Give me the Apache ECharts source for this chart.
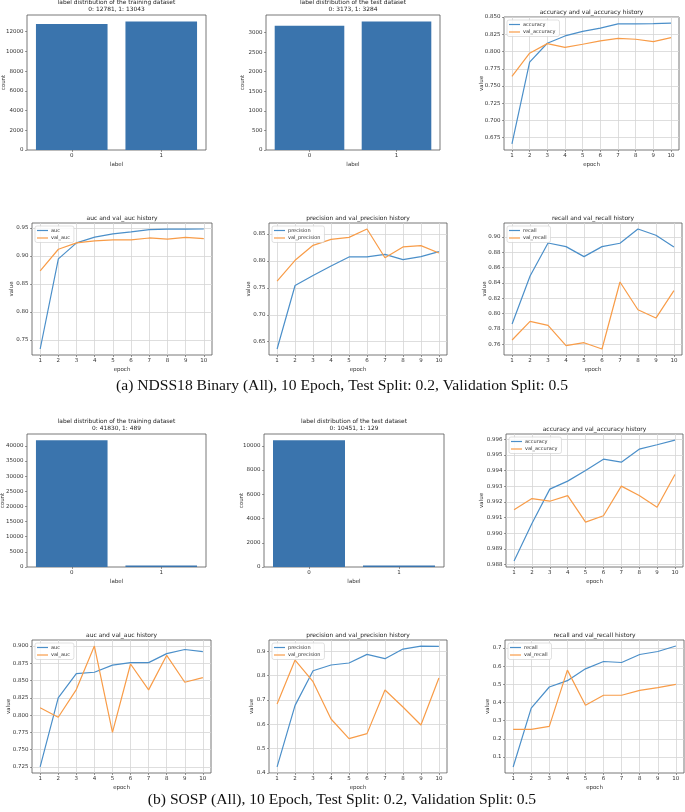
<!DOCTYPE html>
<html>
<head>
<meta charset="utf-8">
<script src="https://cdn.jsdelivr.net/npm/echarts@6/dist/echarts.min.js"></script>
<style>
html, body { margin: 0; padding: 0; background: #fff; }
#main { width: 685px; height: 812px; }
</style>
</head>
<body>
<div id="main"></div>
<script>
// x values of the history plots
const epochs = [1, 2, 3, 4, 5, 6, 7, 8, 9, 10];
const labelCats = ['0', '1'];

// (a) NDSS18 Binary
const ndssTrainCounts = [12781, 13043];
const ndssTestCounts = [3173, 3284];
const ndssAccuracy = [0.666, 0.7846, 0.812, 0.8226, 0.8293, 0.834, 0.840, 0.840, 0.8404, 0.8413];
const ndssValAccuracy = [0.764, 0.7976, 0.8115, 0.806, 0.8106, 0.8154, 0.8192, 0.8178, 0.8144, 0.8202];
const ndssAuc = [0.734, 0.8947, 0.9233, 0.9334, 0.9393, 0.9429, 0.947, 0.9476, 0.9476, 0.948];
const ndssValAuc = [0.8733, 0.9119, 0.9232, 0.9268, 0.9286, 0.9286, 0.932, 0.930, 0.933, 0.931];
const ndssPrecision = [0.6364, 0.7543, 0.7728, 0.7907, 0.8074, 0.8074, 0.8123, 0.8025, 0.808, 0.8173];
const ndssValPrecision = [0.7623, 0.8012, 0.829, 0.840, 0.8438, 0.8593, 0.806, 0.826, 0.8284, 0.8148];
const ndssRecall = [0.7865, 0.8491, 0.8922, 0.8874, 0.8744, 0.8874, 0.8918, 0.9104, 0.9022, 0.887];
const ndssValRecall = [0.7657, 0.790, 0.7848, 0.7583, 0.7622, 0.754, 0.8413, 0.8052, 0.7943, 0.830];

// (b) SOSP
const sospTrainCounts = [41830, 489];
const sospTestCounts = [10451, 129];
const sospAccuracy = [0.98823, 0.99062, 0.99281, 0.99332, 0.994, 0.99472, 0.99453, 0.99536, 0.99564, 0.99594];
const sospValAccuracy = [0.99149, 0.99221, 0.99204, 0.9924, 0.99071, 0.99111, 0.993, 0.9924, 0.99166, 0.99374];
const sospAuc = [0.725, 0.825, 0.8602, 0.8621, 0.8723, 0.876, 0.876, 0.889, 0.895, 0.8918];
const sospValAuc = [0.8107, 0.797, 0.837, 0.900, 0.775, 0.874, 0.8366, 0.8866, 0.8476, 0.8544];
const sospPrecision = [0.4247, 0.678, 0.8206, 0.844, 0.8522, 0.8876, 0.870, 0.9096, 0.922, 0.9206];
const sospValPrecision = [0.6835, 0.8643, 0.7753, 0.622, 0.5412, 0.5618, 0.7412, 0.6712, 0.5973, 0.7904];
const sospRecall = [0.0448, 0.3687, 0.4853, 0.5203, 0.5853, 0.6258, 0.6202, 0.6644, 0.681, 0.711];
const sospValRecall = [0.2516, 0.2516, 0.2687, 0.5782, 0.3847, 0.44, 0.44, 0.4669, 0.4816, 0.500];

// y tick steps, one per panel
const yTickSteps = [2000, 500, 0.025, 0.05, 0.05, 0.02, 5000, 2000, 0.001, 0.025, 0.1, 0.1];

const captions = [
  '(a) NDSS18 Binary (All), 10 Epoch, Test Split: 0.2, Validation Split: 0.5',
  '(b) SOSP (All), 10 Epoch, Test Split: 0.2, Validation Split: 0.5'
];

const BLUE = '#4b8fc9', ORANGE = '#f89c48', BAR = '#3a74ad';
const FONT = 'DejaVu Sans';

function countTitle(name, c) {
  return 'label distribution of the ' + name + ' dataset\n0: ' + c[0] + ', 1: ' + c[1];
}
function histTitle(m) { return m + ' and val_' + m + ' history'; }

// box = [left, top, width, height], nameX = centre of the y axis name
const panels = [
  { box: [27, 15, 179, 135], nameX: 4, bar: ndssTrainCounts, title: countTitle('training', ndssTrainCounts) },
  { box: [266, 15, 174, 135], nameX: 243, bar: ndssTestCounts, title: countTitle('test', ndssTestCounts) },
  { box: [504, 17, 175, 133], nameX: 482, metric: 'accuracy', lines: [ndssAccuracy, ndssValAccuracy] },
  { box: [32, 223, 180, 132], nameX: 12, metric: 'auc', lines: [ndssAuc, ndssValAuc] },
  { box: [269, 223, 178, 132], nameX: 249, metric: 'precision', lines: [ndssPrecision, ndssValPrecision] },
  { box: [504, 223, 178, 132], nameX: 485, metric: 'recall', lines: [ndssRecall, ndssValRecall] },
  { box: [27, 434, 179, 133], nameX: 3, bar: sospTrainCounts, title: countTitle('training', sospTrainCounts) },
  { box: [264, 434, 180, 133], nameX: 242, bar: sospTestCounts, title: countTitle('test', sospTestCounts) },
  { box: [506, 434, 177, 133], nameX: 482, metric: 'accuracy', lines: [sospAccuracy, sospValAccuracy] },
  { box: [32, 640, 179, 133], nameX: 9, metric: 'auc', lines: [sospAuc, sospValAuc] },
  { box: [269, 640, 178, 133], nameX: 252, metric: 'precision', lines: [sospPrecision, sospValPrecision] },
  { box: [505, 640, 179, 133], nameX: 488, metric: 'recall', lines: [sospRecall, sospValRecall] }
];

function decimals(step) {
  const s = String(step);
  return s.indexOf('.') < 0 ? 0 : s.length - s.indexOf('.') - 1;
}
function ticksIn(lo, hi, step) {
  const out = [];
  const d = decimals(step);
  for (let k = Math.ceil(lo / step - 1e-9); k * step <= hi + 1e-9; k++) {
    out.push(+(k * step).toFixed(d));
  }
  return out;
}

const grid = [], xAxis = [], yAxis = [], series = [], legend = [], graphic = [];

panels.forEach((p, i) => {
  const [l, t, w, h] = p.box;
  const step = yTickSteps[i];
  const dec = decimals(step);
  let lo, hi;
  if (p.bar) {
    lo = 0;
    hi = Math.max(...p.bar) * 1.05;
  } else {
    const all = p.lines[0].concat(p.lines[1]);
    const mn = Math.min(...all), mx = Math.max(...all);
    lo = mn - (mx - mn) * 0.05;
    hi = mx + (mx - mn) * 0.05;
  }
  const yTicks = ticksIn(lo, hi, step);

  grid.push({
    left: l, top: t, width: w, height: h,
    show: true, borderColor: '#555', borderWidth: 0.8,
    containLabel: false, outerBoundsMode: 'none'
  });

  const axisText = { fontSize: 5.5, color: '#333', fontFamily: FONT };
  const tickStyle = { show: true, length: 2, lineStyle: { color: '#555', width: 0.6 } };

  yAxis.push({
    type: 'value', gridIndex: i, min: lo, max: hi,
    minInterval: step, maxInterval: step,
    name: p.bar ? 'count' : 'value', nameLocation: 'middle',
    nameGap: l - p.nameX - 3, nameMoveOverlap: false,
    nameTextStyle: { fontSize: 5.5, color: '#333', fontFamily: FONT },
    axisLine: { show: false },
    axisTick: Object.assign({ customValues: yTicks }, tickStyle),
    axisLabel: Object.assign({
      margin: 3.5, customValues: yTicks,
      showMinLabel: true, showMaxLabel: true,
      formatter: v => Number(v).toFixed(dec)
    }, axisText),
    splitLine: { show: !p.bar, lineStyle: { color: '#d6d6d6', width: 0.8 } }
  });

  if (p.bar) {
    xAxis.push({
      type: 'category', gridIndex: i, data: labelCats,
      name: 'label', nameLocation: 'middle', nameGap: 12, nameMoveOverlap: false,
      nameTextStyle: { fontSize: 5.5, color: '#333', fontFamily: FONT },
      axisLine: { show: false },
      axisTick: Object.assign({ alignWithLabel: true }, tickStyle),
      axisLabel: Object.assign({ margin: 3 }, axisText),
      splitLine: { show: false }
    });
    series.push({
      type: 'bar', xAxisIndex: i, yAxisIndex: i, data: p.bar,
      barWidth: '80%', itemStyle: { color: BAR }, silent: true
    });
    graphic.push({
      type: 'text', x: l + w / 2, y: t - 1.5,
      style: {
        text: p.title, textAlign: 'center', textVerticalAlign: 'bottom',
        fontSize: 5.9, lineHeight: 7.2, fontFamily: FONT, fill: '#222'
      }
    });
  } else {
    xAxis.push({
      type: 'value', gridIndex: i, min: 0.55, max: 10.45,
      minInterval: 1, maxInterval: 1,
      name: 'epoch', nameLocation: 'middle', nameGap: 12, nameMoveOverlap: false,
      nameTextStyle: { fontSize: 5.5, color: '#333', fontFamily: FONT },
      axisLine: { show: false },
      axisTick: Object.assign({ customValues: epochs }, tickStyle),
      axisLabel: Object.assign({ margin: 3, customValues: epochs }, axisText),
      splitLine: { show: true, lineStyle: { color: '#d6d6d6', width: 0.8 } }
    });
    const names = [p.metric, 'val_' + p.metric];
    [BLUE, ORANGE].forEach((c, k) => {
      series.push({
        type: 'line', name: names[k], xAxisIndex: i, yAxisIndex: i,
        data: epochs.map((e, j) => [e, p.lines[k][j]]),
        symbol: 'none', lineStyle: { color: c, width: 1.2 }, itemStyle: { color: c },
        silent: true, animation: false
      });
    });
    legend.push({
      data: names, orient: 'vertical', left: l + 3, top: t + 3,
      icon: 'rect', itemWidth: 11, itemHeight: 1.2, itemGap: 2.5,
      selectedMode: false, padding: [2, 4, 2, 2],
      backgroundColor: 'rgba(255,255,255,0.85)', borderColor: '#ccc', borderWidth: 0.6, borderRadius: 2,
      textStyle: { fontSize: 5, color: '#333', fontFamily: FONT, padding: [0, 0, 0, -2] }
    });
    graphic.push({
      type: 'text', x: l + w / 2, y: t - 1.5,
      style: {
        text: histTitle(p.metric), textAlign: 'center', textVerticalAlign: 'bottom',
        fontSize: 6, fontFamily: FONT, fill: '#222'
      }
    });
  }
});

graphic.push({
  type: 'text', x: 342, y: 386,
  style: { text: captions[0], textAlign: 'center', textVerticalAlign: 'middle',
    fontSize: 15.6, fontFamily: 'Liberation Serif', fill: '#111' }
});
graphic.push({
  type: 'text', x: 342, y: 800,
  style: { text: captions[1], textAlign: 'center', textVerticalAlign: 'middle',
    fontSize: 15.6, fontFamily: 'Liberation Serif', fill: '#111' }
});

const chart = echarts.init(document.getElementById('main'), null, { renderer: 'canvas' });
chart.setOption({
  animation: false,
  backgroundColor: '#fff',
  grid: grid,
  xAxis: xAxis,
  yAxis: yAxis,
  legend: legend,
  series: series,
  graphic: graphic
});
</script>
</body>
</html>
